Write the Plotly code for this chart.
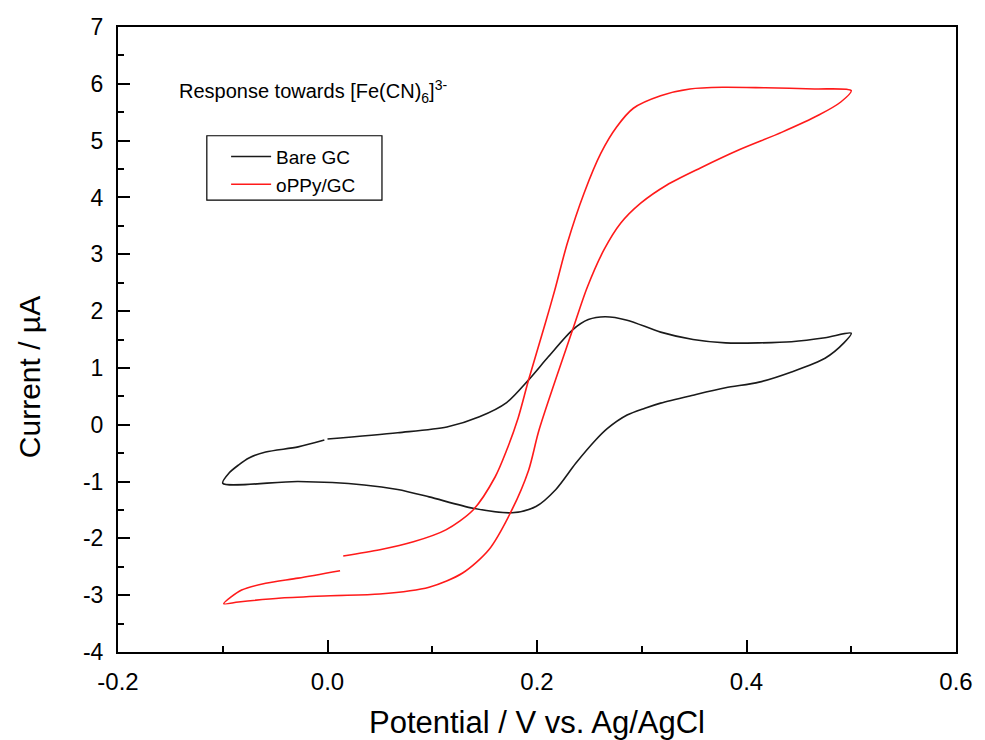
import plotly.graph_objects as go

# Bare GC (black) - CV loop, starting near 0.0 V on the positive-going scan
bare_potential = [0.0, 0.067, 0.114, 0.145, 0.171, 0.192, 0.211, 0.234, 0.249, 0.265, 0.286, 0.318,
                  0.349, 0.38, 0.412, 0.443, 0.475, 0.5,
                  0.493, 0.475, 0.443, 0.412, 0.38, 0.349, 0.318, 0.303, 0.286, 0.267, 0.256, 0.237,
                  0.218, 0.199, 0.176, 0.139, 0.097, 0.067, 0.035, -0.028, -0.1,
                  -0.094, -0.085, -0.075, -0.059, -0.028, -0.003]
bare_current = [-0.25, -0.14, -0.04, 0.14, 0.39, 0.79, 1.2, 1.67, 1.85, 1.9, 1.84, 1.63,
                1.5, 1.44, 1.44, 1.46, 1.53, 1.61,
                1.44, 1.17, 0.93, 0.75, 0.65, 0.52, 0.38, 0.29, 0.17, -0.07, -0.27, -0.68,
                -1.14, -1.44, -1.55, -1.47, -1.27, -1.14, -1.06, -1.0, -1.03,
                -0.85, -0.71, -0.585, -0.48, -0.39, -0.27]

# oPPy/GC (red)
ppy_potential = [0.015, 0.05, 0.082, 0.113, 0.139, 0.16, 0.171, 0.182, 0.192, 0.208, 0.217, 0.229,
                 0.245, 0.261, 0.276, 0.292, 0.318, 0.346, 0.377, 0.418, 0.465, 0.5,
                 0.49, 0.469, 0.434, 0.393, 0.356, 0.324, 0.299, 0.28, 0.264, 0.248, 0.234,
                 0.202, 0.192, 0.176, 0.154, 0.129, 0.097, 0.05, 0.003, -0.044, -0.085, -0.099,
                 -0.082, -0.059, -0.028, 0.012]
ppy_current = [-2.31, -2.2, -2.06, -1.85, -1.5, -0.92, -0.45, 0.12, 0.79, 1.79, 2.37, 3.2,
               4.08, 4.78, 5.24, 5.57, 5.79, 5.91, 5.94, 5.93, 5.91, 5.88,
               5.68, 5.45, 5.15, 4.84, 4.52, 4.22, 3.9, 3.55, 3.08, 2.42, 1.67,
               -0.09, -0.8, -1.5, -2.2, -2.61, -2.86, -2.98, -3.01, -3.05, -3.12, -3.15,
               -2.91, -2.79, -2.7, -2.57]

x_ticks = [-0.2, 0.0, 0.2, 0.4, 0.6]
x_tick_labels = ["-0.2", "0.0", "0.2", "0.4", "0.6"]
y_ticks = [-4, -3, -2, -1, 0, 1, 2, 3, 4, 5, 6, 7]
y_tick_labels = ["-4", "-3", "-2", "-1", "0", "1", "2", "3", "4", "5", "6", "7"]

fig = go.Figure()
fig.add_trace(go.Scatter(x=bare_potential, y=bare_current, mode="lines", name="Bare GC",
                         line=dict(color="#1a1a1a", width=1.6, shape="spline", smoothing=0.8)))
fig.add_trace(go.Scatter(x=ppy_potential, y=ppy_current, mode="lines", name="oPPy/GC",
                         line=dict(color="#ff1a1a", width=1.6, shape="spline", smoothing=0.8)))

sans = "Liberation Sans, Arial, sans-serif"

fig.update_layout(
    width=985, height=740,
    margin=dict(l=118, r=19, t=27, b=88),
    paper_bgcolor="white", plot_bgcolor="white",
    showlegend=True,
    legend=dict(x=0.129, y=0.823, xanchor="left", yanchor="top",
                borderwidth=0, bgcolor="rgba(0,0,0,0)",
                font=dict(family=sans, size=19, color="black"),
                tracegroupgap=0, itemwidth=40),
    shapes=[dict(type="rect", xref="paper", yref="paper",
                 x0=0.106, x1=0.315, y0=0.723, y1=0.826,
                 line=dict(color="black", width=1.2), fillcolor="rgba(0,0,0,0)")],
    annotations=[
        dict(x=0.071, y=0.897, xref="paper", yref="paper", xanchor="left", yanchor="middle",
             text="Response towards [Fe(CN)<sub>6</sub>]<sup>3-</sup>", showarrow=False,
             font=dict(family=sans, size=20, color="black")),
        dict(x=-0.106, y=0.44, xref="paper", yref="paper", xanchor="center", yanchor="middle",
             text="Current / µA", textangle=-90, showarrow=False,
             font=dict(family=sans, size=30, color="black")),
        dict(x=0.5, y=-0.112, xref="paper", yref="paper", xanchor="center", yanchor="middle",
             text="Potential / V vs. Ag/AgCl", showarrow=False,
             font=dict(family=sans, size=31, color="black")),
    ],
)
fig.update_xaxes(range=[-0.2, 0.6], tickvals=x_ticks, ticktext=x_tick_labels,
                 showline=True, linecolor="black", linewidth=2, mirror=True,
                 ticks="inside", ticklen=12, tickwidth=1.5, tickcolor="black",
                 minor=dict(dtick=0.1, ticks="inside", ticklen=6, tickwidth=1.5, tickcolor="black"),
                 showgrid=False, zeroline=False, ticklabelstandoff=7,
                 tickfont=dict(family=sans, size=24, color="black"))
fig.update_yaxes(range=[-4, 7], tickvals=y_ticks, ticktext=y_tick_labels,
                 showline=True, linecolor="black", linewidth=2, mirror=True,
                 ticks="inside", ticklen=12, tickwidth=1.5, tickcolor="black",
                 minor=dict(dtick=0.5, ticks="inside", ticklen=6, tickwidth=1.5, tickcolor="black"),
                 showgrid=False, zeroline=False, ticklabelstandoff=8,
                 tickfont=dict(family=sans, size=23, color="black"))

fig.write_html("out.html")
